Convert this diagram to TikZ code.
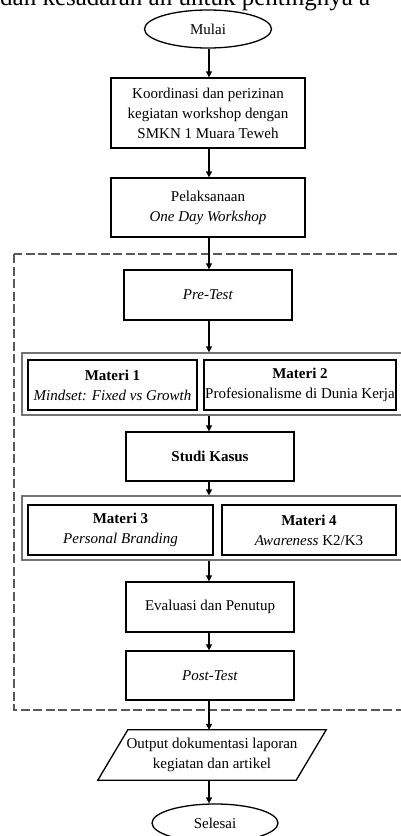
\documentclass[tikz,border=0pt]{standalone}
\usepackage{fontspec}
\setmainfont{Liberation Serif}
\usetikzlibrary{shapes.geometric,arrows.meta,calc}
\begin{document}
\begin{tikzpicture}[x=1pt,y=-1pt,
  txt/.style={font=\fontsize{15}{20}\selectfont, align=center, inner sep=0pt},
  stepbox/.style={txt, draw=black, line width=1.3pt},
  grpbox/.style={draw=black!55, line width=1.3pt, inner sep=0pt},
  term/.style={txt, ellipse, draw=black, line width=1.3pt},
  arr/.style={line width=1.4pt, -{Triangle[length=6pt,width=6pt]}},
  dashframe/.style={draw=black!65, line width=1.6pt, dash pattern=on 9pt off 3.5pt}
]
\useasboundingbox (0,0) rectangle (401,836);
\clip (0,0) rectangle (401,836);
\coordinate (col) at (209,0);

% cut caption text at top
\node[anchor=base west, inner sep=0pt, font=\fontsize{25}{30}\selectfont] (cap) at (0,5) {dan kesadaran an untuk pentingnya a};

% dashed frame
\draw[dashframe] (14,254) rectangle (412,710);

\node[term, minimum width=127pt, minimum height=38pt] (mulai) at (208,29) {Mulai};
\node[stepbox, minimum width=194pt, minimum height=70pt] (koord) at (208,113) {Koordinasi dan perizinan\\kegiatan workshop dengan\\SMKN 1 Muara Teweh};
\node[stepbox, minimum width=194pt, minimum height=59pt] (pelak) at (208,207.5) {Pelaksanaan\\\textit{One Day Workshop}};
\node[stepbox, minimum width=168pt, minimum height=50pt] (pre) at (208,295) {\textit{Pre-Test}};

\node[grpbox, minimum width=390pt, minimum height=62pt] (g1) at (217,384) {};
\node[stepbox, minimum width=169pt, minimum height=50pt] (m1) at (112.5,385) {\textbf{Materi 1}\\\textit{Mindset: Fixed vs Growth}};
\node[stepbox, minimum width=192pt, minimum height=50pt] (m2) at (300,385) {\textbf{Materi 2}\\Profesionalisme di Dunia Kerja};

\node[stepbox, minimum width=168pt, minimum height=49pt] (studi) at (210,456.5) {\textbf{Studi Kasus}};

\node[grpbox, minimum width=390pt, minimum height=64pt] (g2) at (217,528) {};
\node[stepbox, minimum width=185pt, minimum height=50pt] (m3) at (120.5,530) {\textbf{Materi 3}\\\textit{Personal Branding}};
\node[stepbox, minimum width=174pt, minimum height=50pt] (m4) at (309,530) {\textbf{Materi 4}\\\textit{Awareness} K2/K3};

\node[stepbox, minimum width=168pt, minimum height=50pt] (eval) at (210,607) {Evaluasi dan Penutup};
\node[stepbox, minimum width=168pt, minimum height=49pt] (post) at (210,675.5) {\textit{Post-Test}};

\node[txt, minimum width=198pt, minimum height=50pt] (out) at (212,755) {Output dokumentasi laporan\\kegiatan dan artikel};
\draw[line width=1.3pt] ($(out.north west)+(15,0)$) -- ($(out.north east)+(15,0)$) -- ($(out.south east)+(-15,0)$) -- ($(out.south west)+(-15,0)$) -- cycle;

\node[term, minimum width=126pt, minimum height=38pt] (selesai) at (215,823) {Selesai};

% connectors
\draw[arr] (mulai.south -| col) -- (koord.north -| col);
\draw[arr] (koord.south -| col) -- (pelak.north -| col);
\draw[arr] (pelak.south -| col) -- (pre.north -| col);
\draw[arr] (pre.south -| col) -- (g1.north -| col);
\draw[arr] (g1.south -| col) -- (studi.north -| col);
\draw[arr] (studi.south -| col) -- (g2.north -| col);
\draw[arr] (g2.south -| col) -- (eval.north -| col);
\draw[arr] (eval.south -| col) -- (post.north -| col);
\draw[arr] (post.south -| col) -- (out.north -| col);
\draw[arr] (out.south -| col) -- (selesai.north -| col);
\end{tikzpicture}
\end{document}
